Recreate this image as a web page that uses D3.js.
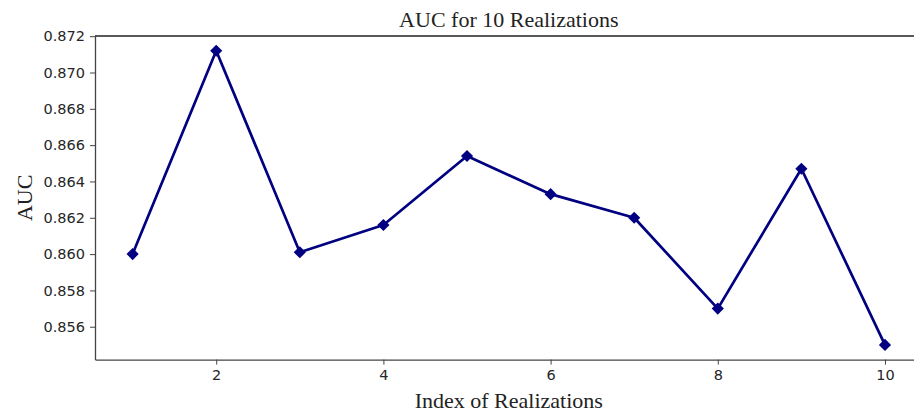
<!DOCTYPE html>
<html>
<head>
<meta charset="utf-8">
<script src="https://cdn.jsdelivr.net/npm/d3@7"></script>
<style>
  body { margin: 0; background: #fff; overflow: hidden; }
  svg { display: block; }
</style>
</head>
<body>
<div id="chart"></div>
<script>
// realization index and AUC values
const realizations = [1, 2, 3, 4, 5, 6, 7, 8, 9, 10];
const aucValues = [0.8600, 0.8712, 0.8601, 0.8616, 0.8654, 0.8633, 0.8620, 0.8570, 0.8647, 0.8550];
const xTicks = [2, 4, 6, 8, 10];
const yTicks = [0.856, 0.858, 0.860, 0.862, 0.864, 0.866, 0.868, 0.870, 0.872];

const width = 914;
const height = 414;
// the right edge of the axes box falls just outside the picture
const plotLeft = 95, plotTop = 36, plotRight = 922.6, plotBottom = 359.6;

const svg = d3.select('#chart')
    .append('svg')
    .attr('width', width)
    .attr('height', height);

// matplotlib style 5% margins on both axes
const xMin = 1 - 0.45, xMax = 10 + 0.45;
const yPad = (d3.max(aucValues) - d3.min(aucValues)) * 0.05;

const xScale = d3.scaleLinear()
    .domain([xMin, xMax])
    .range([plotLeft, plotRight]);

const yScale = d3.scaleLinear()
    .domain([d3.min(aucValues) - yPad, d3.max(aucValues) + yPad])
    .range([plotBottom, plotTop]);

const xAxis = d3.axisBottom(xScale)
    .tickValues(xTicks)
    .tickFormat(d3.format('d'))
    .tickSizeInner(5)
    .tickSizeOuter(0)
    .tickPadding(5);

const yAxis = d3.axisLeft(yScale)
    .tickValues(yTicks)
    .tickFormat(d3.format('.3f'))
    .tickSizeInner(5)
    .tickSizeOuter(0)
    .tickPadding(5);

const gx = svg.append('g')
    .attr('transform', `translate(0, ${plotBottom})`)
    .call(xAxis);

const gy = svg.append('g')
    .attr('transform', `translate(${plotLeft}, 0)`)
    .call(yAxis);

[gx, gy].forEach(g => {
    g.select('.domain').attr('stroke', '#444').attr('stroke-width', 1.3);
    g.selectAll('.tick line').attr('stroke', '#444').attr('stroke-width', 1);
    g.selectAll('.tick text')
        .attr('fill', '#262626')
        .style('font-family', 'DejaVu Sans')
        .style('font-size', '14.5px');
});

// top spine
svg.append('line')
    .attr('x1', plotLeft).attr('x2', plotRight)
    .attr('y1', plotTop).attr('y2', plotTop)
    .attr('stroke', '#222').attr('stroke-width', 1.3);

const line = d3.line()
    .x((d, i) => xScale(realizations[i]))
    .y(d => yScale(d));

svg.append('path')
    .datum(aucValues)
    .attr('d', line)
    .attr('fill', 'none')
    .attr('stroke', '#000080')
    .attr('stroke-width', 2.7)
    .attr('stroke-linejoin', 'round');

svg.selectAll('.marker')
    .data(aucValues)
    .enter()
    .append('path')
    .attr('class', 'marker')
    .attr('d', d3.symbol().type(d3.symbolSquare).size(74))
    .attr('transform', (d, i) => `translate(${xScale(realizations[i])}, ${yScale(d)}) rotate(45)`)
    .attr('fill', '#000080');

svg.append('text')
    .attr('x', (plotLeft + plotRight) / 2)
    .attr('y', 27)
    .attr('text-anchor', 'middle')
    .style('font-family', 'Liberation Serif')
    .style('font-size', '22px')
    .attr('fill', '#222')
    .text('AUC for 10 Realizations');

svg.append('text')
    .attr('x', (plotLeft + plotRight) / 2)
    .attr('y', 408)
    .attr('text-anchor', 'middle')
    .style('font-family', 'Liberation Serif')
    .style('font-size', '22px')
    .attr('fill', '#222')
    .text('Index of Realizations');

svg.append('text')
    .attr('transform', `translate(32, ${(plotTop + plotBottom) / 2}) rotate(-90)`)
    .attr('text-anchor', 'middle')
    .style('font-family', 'Liberation Serif')
    .style('font-size', '22px')
    .attr('fill', '#222')
    .text('AUC');
</script>
</body>
</html>
